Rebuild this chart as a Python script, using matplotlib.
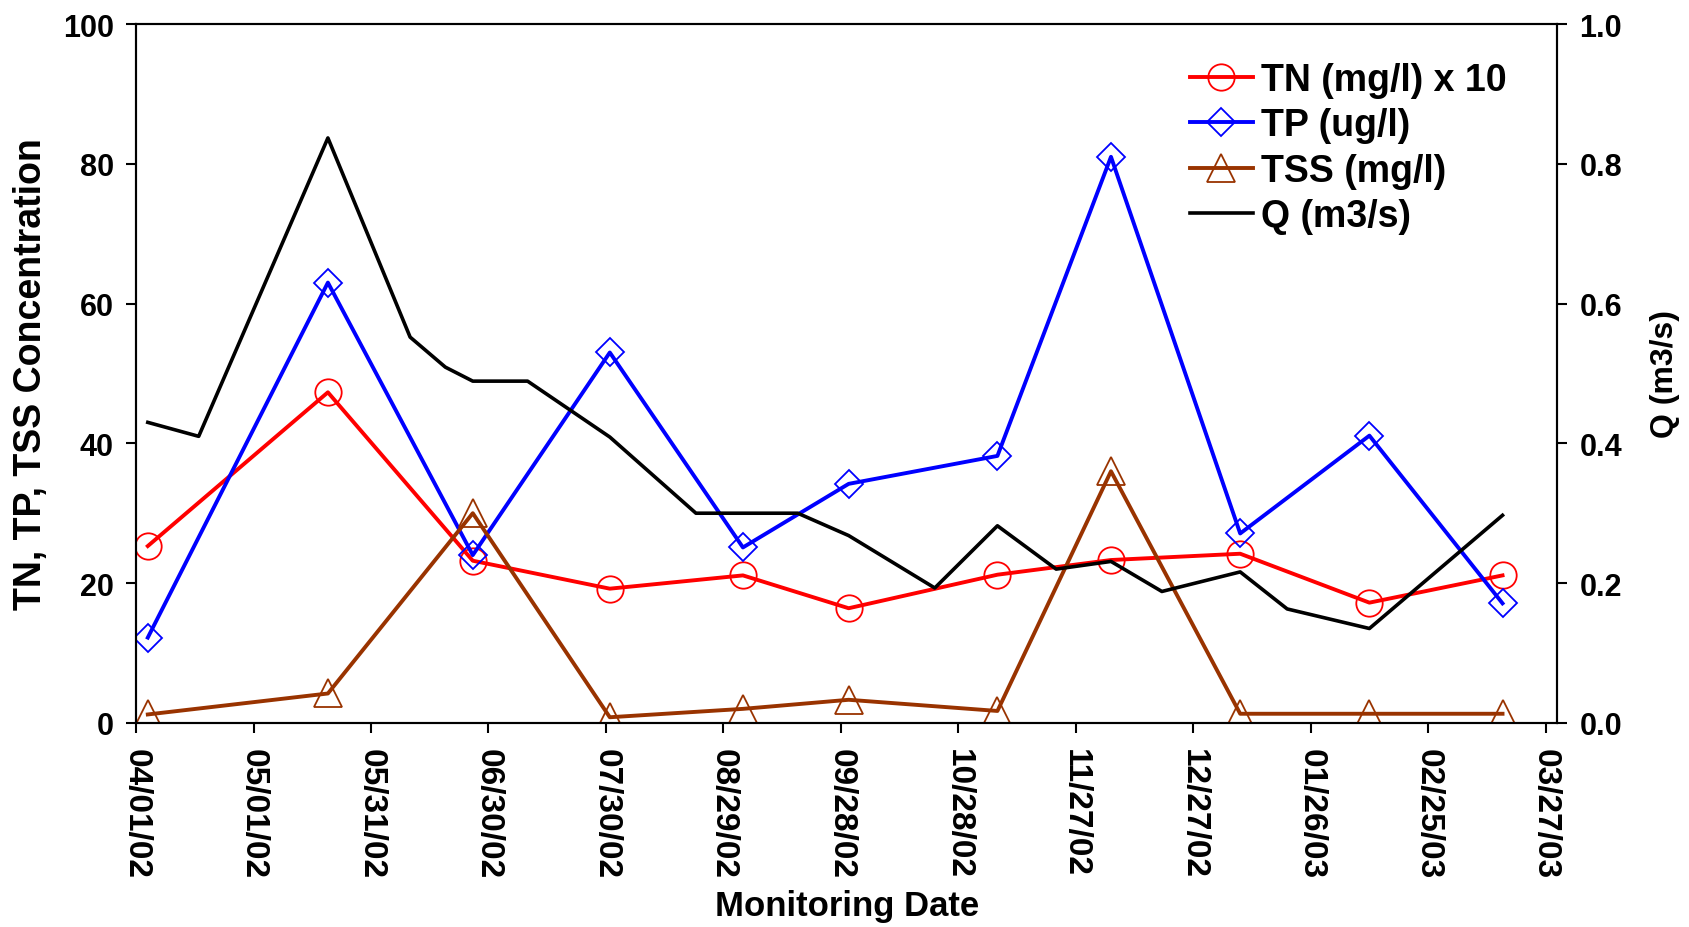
import matplotlib
matplotlib.use("Agg")
import matplotlib.pyplot as plt
import matplotlib.dates as mdates
import pandas as pd

plt.rcParams['font.family'] = ['Liberation Sans', 'DejaVu Sans']
plt.rcParams['font.weight'] = 'bold'

# sampling dates (TN, TP, TSS)
sample_dates = ["2002-04-04", "2002-05-20", "2002-06-26", "2002-07-31", "2002-09-03",
                "2002-09-30", "2002-11-07", "2002-12-06", "2003-01-08", "2003-02-10",
                "2003-03-16"]
tn = [25.3, 47.3, 23.2, 19.2, 21.1, 16.4, 21.2, 23.3, 24.2, 17.2, 21.1]
tp = [12.2, 63.0, 24.0, 53.0, 25.1, 34.2, 38.2, 81.0, 27.1, 41.1, 17.1]
tss = [1.2, 4.2, 30.0, 0.8, 2.0, 3.3, 1.7, 36.0, 1.3, 1.3, 1.3]

# flow record
q_dates = ["2002-04-04", "2002-04-17", "2002-05-20", "2002-06-10", "2002-06-19",
           "2002-06-26", "2002-07-10", "2002-07-31", "2002-08-22", "2002-09-17",
           "2002-09-30", "2002-10-22", "2002-11-07", "2002-11-22", "2002-12-06",
           "2002-12-19", "2003-01-08", "2003-01-20", "2003-02-10", "2003-03-16"]
q = [0.43, 0.41, 0.837, 0.552, 0.509, 0.489, 0.489, 0.409, 0.30, 0.30,
     0.268, 0.193, 0.282, 0.22, 0.231, 0.188, 0.216, 0.163, 0.135, 0.297]

sd = pd.to_datetime(sample_dates)
qd = pd.to_datetime(q_dates)
tick_dates = pd.date_range("2002-04-01", periods=13, freq="30D")

brown = "#993300"

fig = plt.figure(figsize=(16.9, 9.28), dpi=100)
ax = fig.add_axes([0.0805, 0.22, 0.841, 0.753])
ax2 = ax.twinx()

l1, = ax.plot(sd, tn, color="red", lw=2.8, marker="o", ms=19, mfc="none", mec="red", mew=1.3,
              label="TN (mg/l) x 10")
l2, = ax.plot(sd, tp, color="blue", lw=2.8, marker="D", ms=14, mfc="none", mec="blue", mew=1.3,
              label="TP (ug/l)")
l3, = ax.plot(sd, tss, color=brown, lw=2.8, marker="^", ms=20, mfc="none", mec=brown, mew=1.3,
              label="TSS (mg/l)")
l4, = ax2.plot(qd, q, color="black", lw=2.6, label="Q (m3/s)")

ax.set_xlim(pd.Timestamp("2002-04-01"), pd.Timestamp("2003-03-30"))
ax.set_ylim(0, 100)
ax2.set_ylim(0, 1.0)
ax.set_yticks([0, 20, 40, 60, 80, 100])
ax2.set_yticks([0.0, 0.2, 0.4, 0.6, 0.8, 1.0])
ax2.yaxis.set_major_formatter(matplotlib.ticker.FormatStrFormatter('%.1f'))
ax.set_xticks(tick_dates)
ax.xaxis.set_major_formatter(mdates.DateFormatter("%m/%d/%y"))

for a in (ax, ax2):
    for s in a.spines.values():
        s.set_linewidth(1.5)
ax.tick_params(axis="x", direction="out", length=7, width=1.5, pad=11, labelsize=24, labelrotation=-90)
ax.tick_params(axis="y", direction="out", length=7, width=1.5, pad=9, labelsize=22)
ax2.tick_params(axis="y", direction="out", length=7, width=1.5, pad=9, labelsize=22)
for lab in ax.get_xticklabels():
    lab.set_va("top")
    lab.set_ha("center")

ax.set_xlabel("Monitoring Date", fontsize=25, fontweight="bold", labelpad=8)
ax.set_ylabel("TN, TP, TSS Concentration", fontsize=27, fontweight="bold", labelpad=10)
ax2.set_ylabel("Q (m3/s)", fontsize=23, fontweight="bold", rotation=90, labelpad=20)

ax.legend(handles=[l1, l2, l3, l4], loc="upper right", bbox_to_anchor=(0.98, 0.978),
          frameon=False, fontsize=27, handlelength=1.7, handletextpad=0.2, labelspacing=0.25,
          borderaxespad=0.2)

fig.savefig("out.png", dpi=100)
